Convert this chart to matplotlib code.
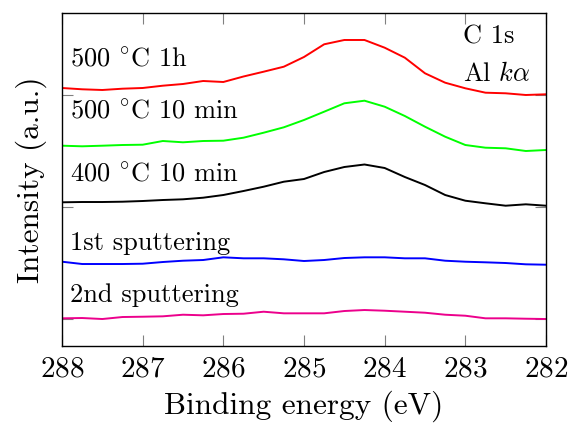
"""C 1s XPS spectra (Al k-alpha) after sputtering and annealing, stacked with offsets."""

import matplotlib
matplotlib.use("Agg")
import matplotlib.pyplot as plt

plt.rcParams["font.family"] = "cmr10"
plt.rcParams["mathtext.fontset"] = "cm"
plt.rcParams["axes.formatter.use_mathtext"] = True

# binding energy grid (eV)
energy = [288.0, 287.75, 287.5, 287.25, 287.0, 286.75, 286.5, 286.25, 286.0,
          285.75, 285.5, 285.25, 285.0, 284.75, 284.5, 284.25, 284.0,
          283.75, 283.5, 283.25, 283.0, 282.75, 282.5, 282.25, 282.0]

# offset intensities (a.u.)
i_500_1h = [258.0, 256.7, 256.0, 257.3, 258.0, 260.3, 262.0, 265.0, 264.0,
            269.5, 274.3, 279.3, 289.0, 301.7, 306.0, 306.0, 298.3,
            288.3, 272.7, 263.3, 257.7, 253.3, 252.7, 251.0, 251.7]
i_500_10 = [200.3, 199.7, 200.3, 201.0, 201.3, 205.0, 203.7, 205.0, 205.3,
            208.3, 213.3, 218.7, 226.0, 234.3, 242.7, 245.3, 239.3,
            230.0, 219.3, 209.3, 201.0, 198.3, 197.7, 195.0, 196.0]
i_400_10 = [143.7, 144.0, 144.0, 144.3, 145.0, 146.0, 146.7, 148.3, 151.0,
            155.0, 159.3, 164.3, 167.0, 174.0, 179.0, 181.5, 178.0,
            169.0, 161.0, 151.0, 145.3, 142.7, 140.3, 141.7, 140.3]
i_sput1 = [84.3, 82.0, 82.0, 82.0, 82.3, 84.0, 85.3, 86.0, 88.7,
           87.7, 87.7, 86.7, 85.0, 86.0, 88.0, 88.7, 88.7,
           87.7, 87.7, 85.3, 84.3, 83.7, 83.0, 81.7, 81.3]
i_sput2 = [27.7, 28.0, 27.0, 29.0, 29.3, 29.7, 31.3, 30.7, 32.0,
           32.3, 34.3, 32.7, 32.7, 32.7, 35.0, 36.0, 35.3,
           34.3, 33.3, 31.3, 30.3, 27.7, 27.7, 27.3, 27.0]

series = [i_500_1h, i_500_10, i_400_10, i_sput1, i_sput2]
colors = ["#ff0000", "#00ff00", "#000000", "#0000ff", "#ec008c"]
labels = [r"500 $^{\circ}$C 1h", r"500 $^{\circ}$C 10 min", r"400 $^{\circ}$C 10 min",
          "1st sputtering", "2nd sputtering"]
label_y = [280, 228, 166, 96, 44]

x_ticks = [288, 287, 286, 285, 284, 283, 282]
y_ticks = [27, 139, 251]

fig = plt.figure(figsize=(5.71, 4.30), dpi=100)
ax = fig.add_axes([0.1086, 0.1953, 0.8476, 0.7745])

for vals, c in zip(series, colors):
    ax.plot(energy, vals, color=c, lw=1.4, solid_joinstyle="round")

for txt, yy in zip(labels, label_y):
    ax.text(287.9, yy, txt, fontsize=19, va="baseline", ha="left")
ax.text(283.03, 302, "C 1s", fontsize=19, va="baseline", ha="left")
ax.text(283.03, 265, r"Al $k\alpha$", fontsize=19, va="baseline", ha="left")

ax.set_xlim(288, 282)
ax.set_ylim(0, 333)
ax.set_xticks(x_ticks)
ax.set_yticks(y_ticks)
ax.set_yticklabels([])
ax.tick_params(direction="in", length=8, width=0.8, color="#808080",
               top=True, right=True, labelsize=21, pad=7)
for s in ax.spines.values():
    s.set_linewidth(1.0)

ax.set_xlabel("Binding energy (eV)", fontsize=22.5, labelpad=6)
ax.set_ylabel("Intensity (a.u.)", fontsize=22.5, labelpad=4)

fig.savefig("out.png", dpi=100)
